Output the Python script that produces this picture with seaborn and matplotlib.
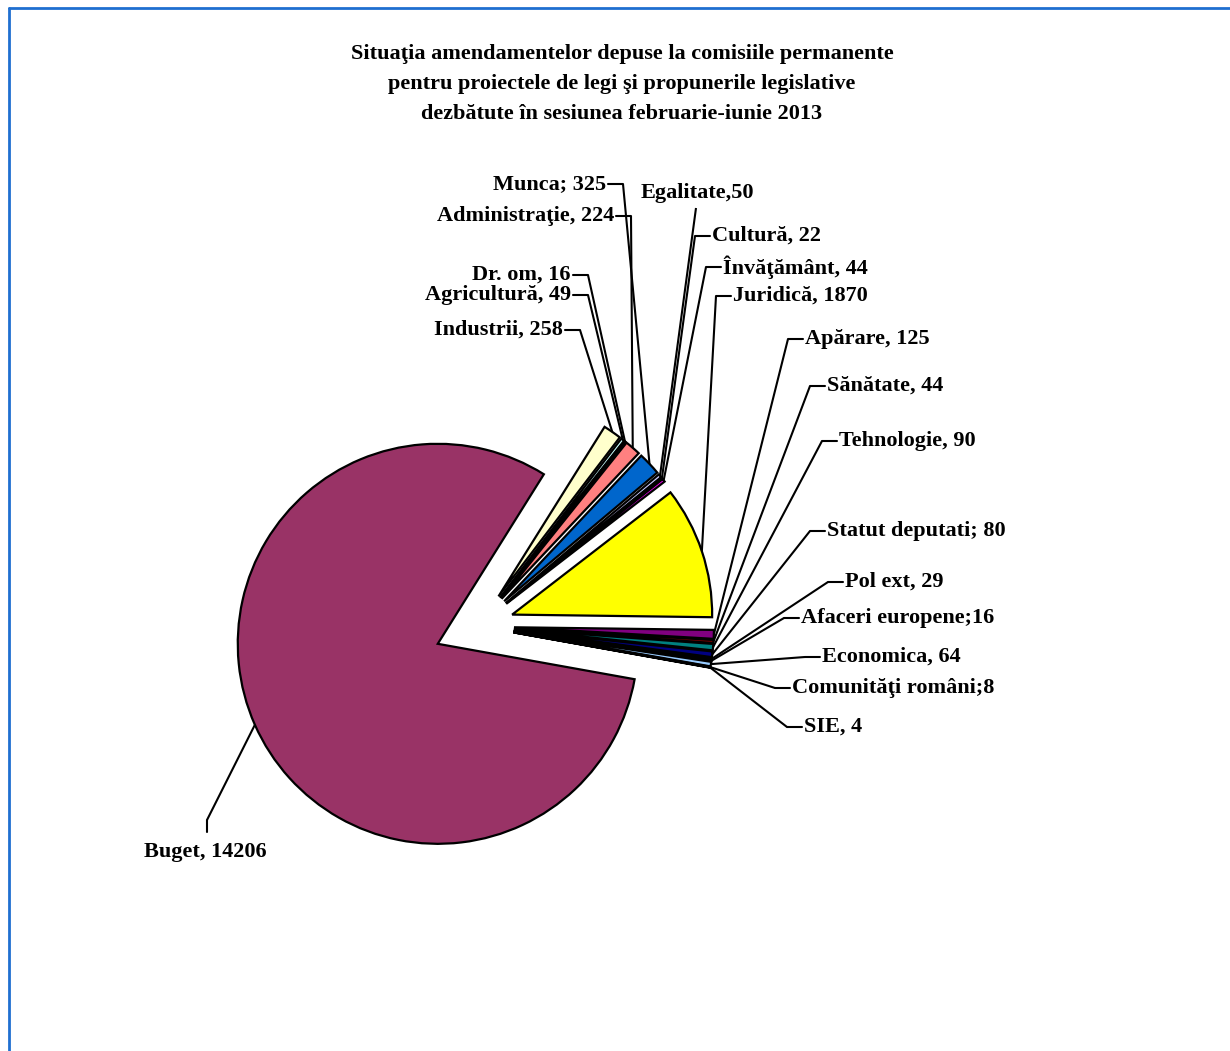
import numpy as np
import seaborn as sns
from matplotlib import pyplot as plt
from matplotlib.lines import Line2D

sns.set_theme(style="white")
plt.rcParams["font.family"] = ["Liberation Serif", "DejaVu Serif"]

# date: amendamente pe comisii (ordinea feliilor, in sens orar)
comisii = ["Buget", "Industrii", "Agricultură", "Dr. om", "Administraţie", "Munca",
           "Egalitate", "Cultură", "Învăţământ", "Juridică", "Apărare", "Sănătate",
           "Tehnologie", "Statut deputati", "Pol ext", "Afaceri europene", "Economica",
           "Comunităţi români", "SIE"]
amendamente = [14206, 258, 49, 16, 224, 325, 50, 22, 44, 1870, 125, 44, 90, 80,
               29, 16, 64, 8, 4]
separatori = [", ", ", ", ", ", ", ", ", ", "; ", ",", ", ", ", ", ", ", ", ", ", ",
              ", ", "; ", ", ", ";", ", ", ";", ", "]
culori = ["#993366", "#FFFFCC", "#CCFFFF", "#660066", "#FF8080", "#0066CC",
          "#CCCCFF", "#000080", "#FF00FF", "#FFFF00", "#800080", "#800000",
          "#008080", "#000080", "#CCFFCC", "#FFFF99", "#99CCFF", "#FF99CC", "#CC99FF"]

etichete = [c + s + str(v) for c, s, v in zip(comisii, separatori, amendamente)]
explodare = [0.22] + [0.18] * (len(amendamente) - 1)

# pozitia etichetelor (pixeli in imagine): cotul liniei de legatura si partea textului
W, H = 1230, 1051
CX, CY, R = 478, 626, 200
cot = [(207, 820, "jos"), (580, 330, "st"), (588, 295, "st"), (588, 275, "st"),
       (631, 216, "st"), (623, 184, "st"), (696, 208, "sus"), (695, 236, "dr"),
       (706, 267, "dr"), (716, 296, "dr"), (788, 339, "dr"), (810, 386, "dr"),
       (822, 441, "dr"), (810, 531, "dr"), (828, 582, "dr"), (784, 618, "dr"),
       (805, 657, "dr"), (775, 688, "dr"), (787, 727, "dr")]


def px(x, y):
    return (x - CX) / R, (CY - y) / R


fig = plt.figure(figsize=(W / 100, H / 100), dpi=100)
ax = fig.add_axes([0, 0, 1, 1])
felii, _ = ax.pie(amendamente, colors=culori, explode=explodare, startangle=-10.2,
                  counterclock=False, radius=1,
                  wedgeprops=dict(edgecolor="black", linewidth=1.6))
ax.set_xlim(-CX / R, (W - CX) / R)
ax.set_ylim((CY - H) / R, CY / R)
ax.set_aspect("equal")
ax.axis("off")

stil = dict(fontsize=16, fontweight="bold", color="black")
lw = 1.5
for w, text, (ex, ey, parte) in zip(felii, etichete, cot):
    tm = np.deg2rad((w.theta1 + w.theta2) / 2)
    ax_, ay_ = w.center[0] + w.r * np.cos(tm), w.center[1] + w.r * np.sin(tm)
    x0, y0 = px(ex, ey)
    ax.plot([ax_, x0], [ay_, y0], color="black", lw=lw, solid_capstyle="butt")
    if parte == "st":
        x1, _ = px(ex - 15, ey)
        ax.plot([x0, x1], [y0, y0], color="black", lw=lw)
        ax.text(*px(ex - 17, ey), text, ha="right", va="center", **stil)
    elif parte == "dr":
        x1, _ = px(ex + 15, ey)
        ax.plot([x0, x1], [y0, y0], color="black", lw=lw)
        ax.text(*px(ex + 17, ey), text, ha="left", va="center", **stil)
    elif parte == "jos":
        _, y1 = px(ex, ey + 12)
        ax.plot([x0, x0], [y0, y1], color="black", lw=lw)
        ax.text(*px(ex - 2, ey + 32), text, ha="center", va="center", **stil)
    else:
        ax.text(*px(ex + 1, ey - 15), text, ha="center", va="center", **stil)

fig.text(622 / W, 1 - 84 / H,
         "Situaţia amendamentelor depuse la comisiile permanente\n"
         "pentru proiectele de legi şi propunerile legislative\n"
         "dezbătute în sesiunea februarie-iunie 2013",
         ha="center", va="center", linespacing=1.65, **stil)

# chenarul albastru (sus si stanga)
fig.add_artist(Line2D([9 / W, 1], [1 - 8 / H, 1 - 8 / H], transform=fig.transFigure,
                      color="#1f6fd0", lw=2))
fig.add_artist(Line2D([9 / W, 9 / W], [0, 1 - 8 / H], transform=fig.transFigure,
                      color="#1f6fd0", lw=2))

fig.savefig("out.png", dpi=100, facecolor="white")
